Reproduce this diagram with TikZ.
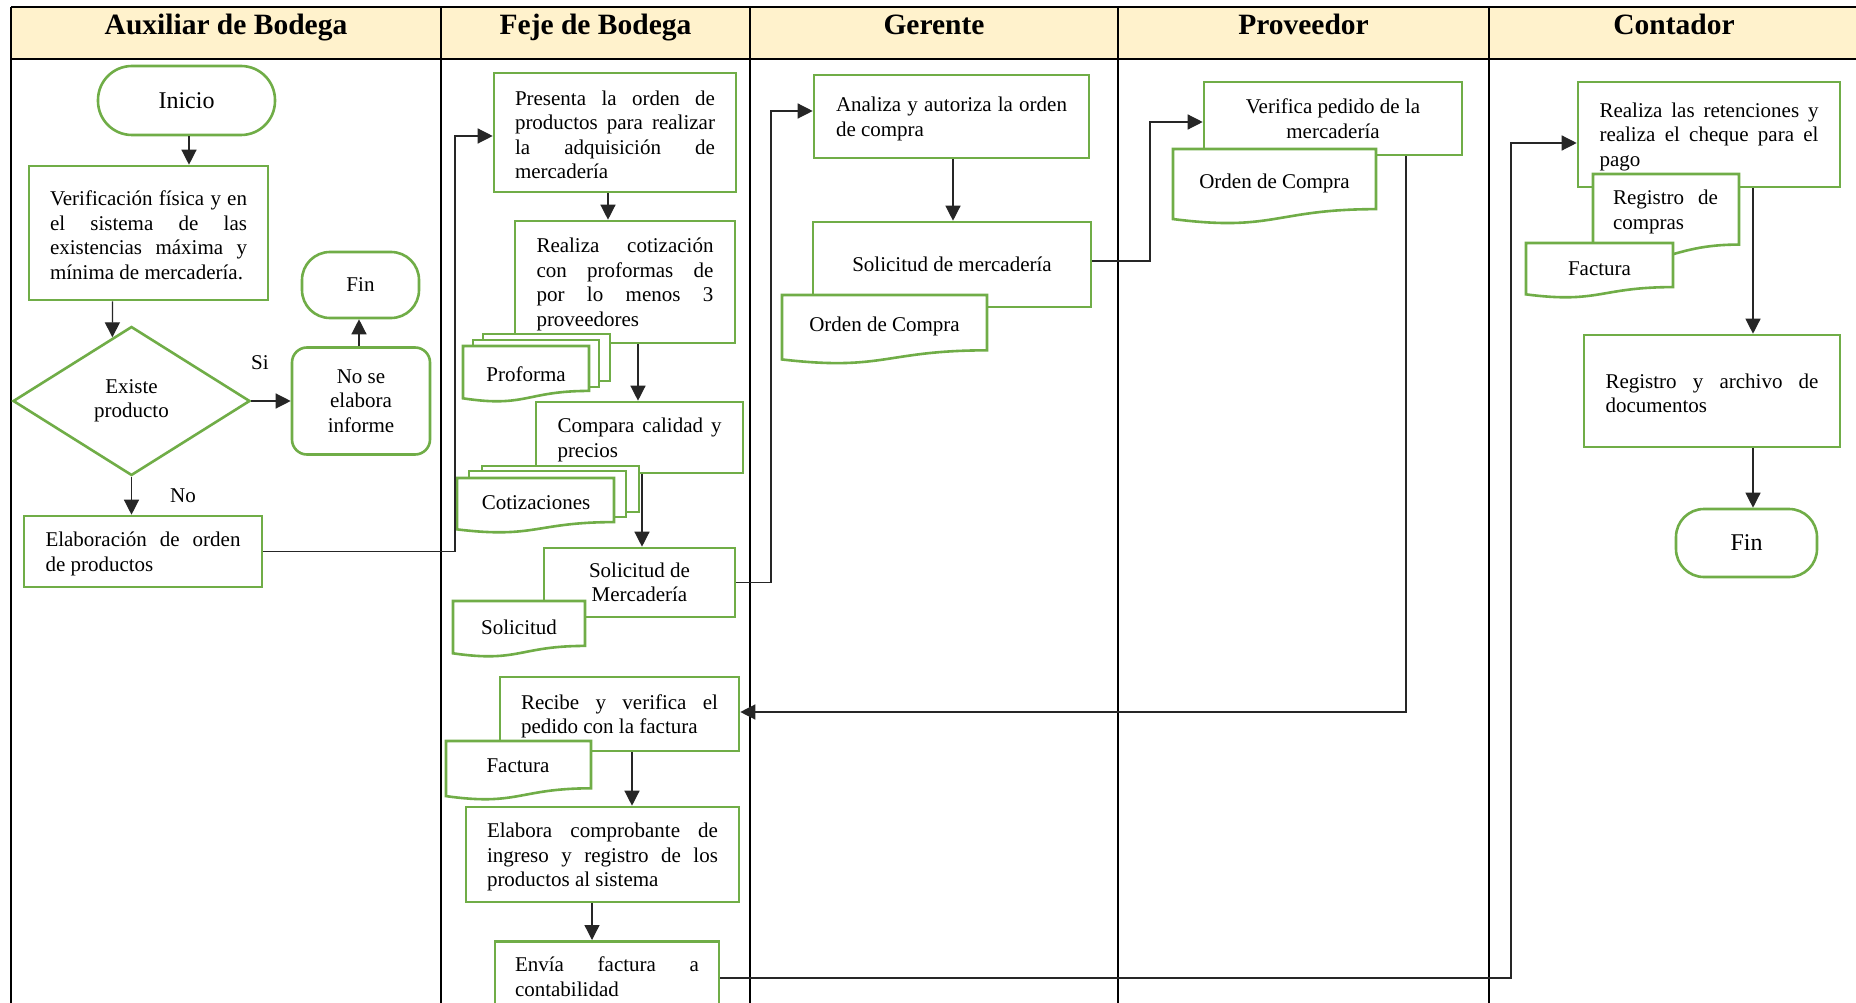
\documentclass[tikz,border=0pt]{standalone}
\usepackage{fontspec}
\setmainfont{Liberation Serif}
\usetikzlibrary{arrows.meta,shapes.geometric,calc}
\definecolor{grn}{HTML}{70AD47}
\definecolor{hdrcol}{HTML}{FFF2CC}
\newcommand\bodyfont{\fontsize{21pt}{24.5pt}\selectfont}
\newcommand\bigfont{\fontsize{24pt}{28pt}\selectfont}
\newcommand\headfont{\fontsize{29.5pt}{34pt}\selectfont\bfseries}
\newcommand\docshape[4]{\filldraw[doc] (#1,#2) -- ({#1+#3},#2) -- ({#1+#3},{#2+0.802*#4}) .. controls ({#1+0.5*#3},{#2+0.802*#4}) and ({#1+0.5*#3},{#2+1.107*#4}) .. (#1,{#2+0.934*#4}) -- cycle;}
\newcommand\backsheet[4]{\filldraw[doc] (#1,#2) rectangle ++(#3,#4);}
\begin{document}
\begin{tikzpicture}[x=1pt,y=-1pt,
  every node/.style={font=\bodyfont, text=black},
  box/.style={draw=grn, line width=2.6pt, fill=white, inner sep=0pt},
  jbox/.style={box, align=justify, text width=#1, execute at begin node={\rule{0pt}{19.5pt}}},
  cbox/.style={box, align=center, execute at begin node={\rule{0pt}{19.5pt}}},
  doc/.style={draw=grn, line width=2.6pt, fill=white},
  dtext/.style={inner sep=0pt},
  htitle/.style={font=\headfont, anchor=base, inner sep=0pt},
  lane/.style={line width=2.5pt, black},
  conn/.style={line width=1.3pt, black!85},
  arr/.style={conn, -{Triangle[length=15pt,width=15pt]}},
]
\useasboundingbox (0,0) rectangle (1856,1003);
\fill[white] (0,0) rectangle (1856,1003);
\clip (0,0) rectangle (1856,1003);

% header and lanes
\fill[hdrcol] (11,7) rectangle (1860,59);
\draw[lane] (11,7) -- (1860,7);
\draw[lane] (11,59) -- (1860,59);
\foreach \x in {11,441,750,1118,1489} \draw[lane] (\x,7) -- (\x,1010);
\node[htitle] (hA) at (226,34.5) {Auxiliar de Bodega};
\node[htitle] (hB) at (595.5,34.5) {Feje de Bodega};
\node[htitle] (hC) at (934,34.5) {Gerente};
\node[htitle] (hD) at (1303.5,34.5) {Proveedor};
\node[htitle] (hE) at (1674,34.5) {Contador};

% Auxiliar de Bodega
\node[box, font=\bigfont, rounded corners=34pt, minimum width=177pt, minimum height=69pt] (inicio) at (186.5,100.5) {Inicio};
\node[jbox=197pt, minimum width=239pt, minimum height=134pt] (verif) at (148.5,233) {Verificación física y en\linebreak el sistema de las\linebreak existencias máxima y\linebreak mínima de mercadería.};
\node[box, rounded corners=28pt, minimum width=117pt, minimum height=66pt] (fin1) at (360.5,285) {Fin};
\node[draw=grn, line width=2.6pt, fill=white, shape=diamond, aspect=1.59, inner sep=0pt, minimum width=237pt, minimum height=149pt, align=center] (dia) at (131.5,401) {Existe\\producto};
\node[cbox, rounded corners=15pt, minimum width=138pt, minimum height=107pt] (noinf) at (361,401) {No se\\elabora\\informe};
\node[jbox=195pt, minimum width=238pt, minimum height=71pt] (elab) at (143,551.5) {Elaboración de orden\linebreak de productos};
\node (si) at (260,363) {Si};
\node (no) at (183,496) {No};

% Feje de Bodega
\node[jbox=200pt, minimum width=242pt, minimum height=119pt] (pres) at (615,132.5) {Presenta la orden de\linebreak productos para realizar\linebreak la adquisición de\linebreak mercadería};
\node[jbox=177pt, minimum width=220pt, minimum height=122pt] (real) at (625,282) {Realiza cotización\linebreak con proformas de\linebreak por lo menos 3\linebreak proveedores};
\backsheet{483}{334}{127}{47}
\backsheet{473}{340}{126}{47}
\docshape{463}{346}{126}{56}
\node[dtext] (profT) at (526,374) {Proforma};

\node[jbox=164pt, minimum width=207pt, minimum height=71pt] (comp) at (639.5,437.5) {Compara calidad y\linebreak precios};
\backsheet{482}{466}{157}{46}
\backsheet{469}{471}{157}{46}
\docshape{457}{478}{157}{55}
\node[dtext] (cotT) at (536,503) {Cotizaciones};

\node[cbox, minimum width=191pt, minimum height=69pt] (solm) at (639.5,582.5) {Solicitud de\\Mercadería};
\docshape{453}{601}{132}{56}
\node[dtext] (solT) at (519,627) {Solicitud};

\node[jbox=197pt, minimum width=239pt, minimum height=74pt] (recib) at (619.5,714) {Recibe y verifica el\linebreak pedido con la factura};
\docshape{446}{741}{145}{59}
\node[dtext] (facT) at (518,766) {Factura};

\node[jbox=231pt, minimum width=273pt, minimum height=95pt] (elabc) at (602.5,854.5) {Elabora comprobante de\linebreak ingreso y registro de los\linebreak productos al sistema};
\node[box, minimum width=224pt, minimum height=120pt, anchor=north] (envia) at (607,940) {};
\node[anchor=north, inner sep=0pt, text width=184pt, align=justify] (enviaT) at (607,957) {Envía factura a\linebreak contabilidad};

% Gerente
\node[jbox=231pt, minimum width=275pt, minimum height=83pt] (anal) at (951.5,116.5) {Analiza y autoriza la orden\linebreak de compra};
\node[box, align=center, minimum width=278pt, minimum height=85pt] (solg) at (952,264.5) {Solicitud de mercadería};
\docshape{782}{295}{205}{69}
\node[dtext] (ordG) at (884.5,326) {Orden de Compra};

% Proveedor
\node[cbox, minimum width=258pt, minimum height=73pt] (verp) at (1333,118.5) {Verifica pedido de la\\mercadería};
\docshape{1173}{149}{203}{75}
\node[dtext] (ordP) at (1274.5,183) {Orden de Compra};

% Contador
\node[jbox=219pt, minimum width=262pt, minimum height=105pt] (ret) at (1709,134.5) {Realiza las retenciones y\linebreak realiza el cheque para el\linebreak pago};
\docshape{1593}{174}{146}{88}
\node[dtext, text width=105pt, align=justify] (regT) at (1665.5,212) {Registro de\linebreak compras};
\docshape{1526}{243}{147}{55}
\node[dtext] (fac2T) at (1599.5,269) {Factura};
\node[jbox=213pt, minimum width=256pt, minimum height=112pt] (arch) at (1712,391) {Registro y archivo de\linebreak documentos};
\node[box, font=\bigfont, rounded corners=28pt, minimum width=141pt, minimum height=68pt] (fin2) at (1746.5,543) {Fin};

% connectors
\draw[arr] (inicio.south -| 189,0) -- (189,0 |- verif.north);
\draw[arr] (verif.south -| 112.5,0) -- ($(dia.west)!0.84!(dia.north)$);
\draw[arr] (dia.east) -- (noinf.west |- dia.east);
\draw[arr] (noinf.north -| 359,0) -- (359,0 |- fin1.south);
\draw[arr] (dia.south) -- (dia.south |- elab.north);
\draw[arr] (elab.east) -- (455,0 |- elab.east) |- (pres.west |- 0,136);
\draw[arr] (pres.south -| 608,0) -- (608,0 |- real.north);
\draw[arr] (real.south -| 638,0) -- (638,0 |- comp.north);
\draw[arr] (comp.south -| 642,0) -- (642,0 |- solm.north);
\draw[arr] (solm.east) -- (771,0 |- solm.east) |- (anal.west |- 0,111);
\draw[arr] (anal.south -| 953,0) -- (953,0 |- solg.north);
\draw[arr] (solg.east |- 0,261) -| (1150,122) -- (verp.west |- 0,122);
\draw[arr] (verp.south -| 1406,0) |- (recib.east |- 0,712);
\draw[arr] (recib.south -| 632,0) -- (632,0 |- elabc.north);
\draw[arr] (elabc.south -| 592,0) -- (592,0 |- envia.north);
\draw[arr] (envia.east |- 0,978) -| (1511,143) -- (ret.west |- 0,143);
\draw[arr] (ret.south -| 1753,0) -- (1753,0 |- arch.north);
\draw[arr] (arch.south -| 1753,0) -- (1753,0 |- fin2.north);
\end{tikzpicture}
\end{document}
